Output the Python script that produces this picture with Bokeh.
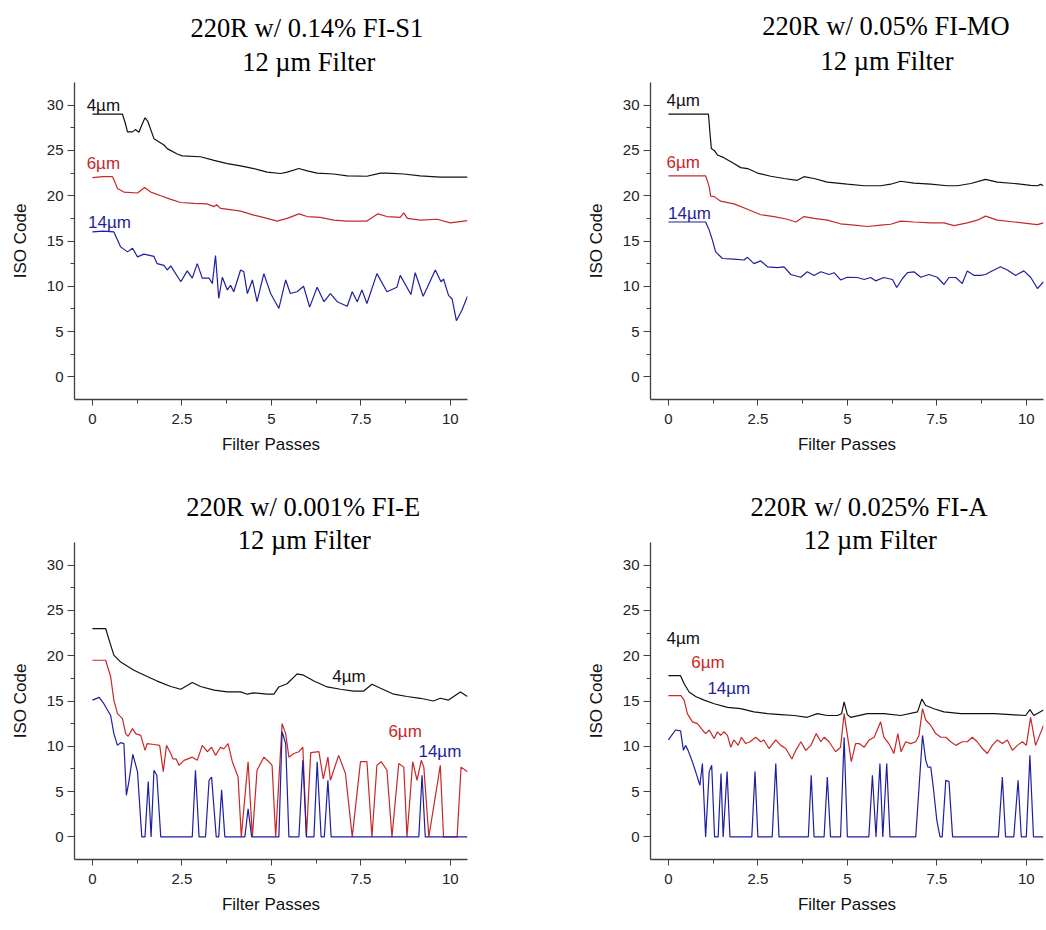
from bokeh.plotting import figure
from bokeh.layouts import column, row
from bokeh.models import Range1d, FixedTicker, Label, Title
from bokeh.embed import file_html
from bokeh.resources import INLINE

# ---------------- data ----------------
x_ticks = [0, 2.5, 5, 7.5, 10]
x_tick_labels = ["0", "2.5", "5", "7.5", "10"]
x_minor = [1.25, 3.75, 6.25, 8.75]
y_ticks = [0, 5, 10, 15, 20, 25, 30]
y_tick_labels = ["0", "5", "10", "15", "20", "25", "30"]
y_minor = [2.5, 7.5, 12.5, 17.5, 22.5, 27.5]

series_names = ["4\u00b5m", "6\u00b5m", "14\u00b5m"]

# Panel 1: 220R w/ 0.14% FI-S1
s1_4_x = [0, 0.84, 0.92, 0.98, 1.12, 1.2, 1.3, 1.38, 1.47, 1.55, 1.72, 2.0, 2.09, 2.37, 2.51, 3.02, 3.4, 3.77,
          4.14, 4.51, 4.88, 5.26, 5.44, 5.77, 6.0, 6.28, 6.74, 7.12, 7.67, 8.05, 8.23, 8.7, 9.16, 9.72, 10.48]
s1_4_y = [29.0, 29.0, 28.0, 27.05, 27.05, 27.3, 27.0, 27.8, 28.6, 28.2, 26.3, 25.6, 25.2, 24.6, 24.4, 24.3, 23.9,
          23.55, 23.3, 23.0, 22.6, 22.45, 22.6, 23.0, 22.75, 22.5, 22.4, 22.2, 22.15, 22.5, 22.5, 22.4, 22.2, 22.05, 22.05]
s1_6_x = [0, 0.3, 0.56, 0.63, 0.7, 0.88, 1.26, 1.46, 1.63, 1.91, 2.19, 2.47, 2.84, 3.2, 3.4, 3.47, 3.58, 3.95,
          4.14, 4.51, 4.88, 5.16, 5.44, 5.77, 6.0, 6.37, 6.74, 7.12, 7.67, 7.98, 8.23, 8.6, 8.7, 8.8, 9.16, 9.63, 10.0, 10.48]
s1_6_y = [22.0, 22.1, 22.1, 21.5, 20.8, 20.4, 20.3, 20.9, 20.4, 20.0, 19.6, 19.25, 19.15, 19.1, 18.8, 19.0, 18.6,
          18.4, 18.3, 17.85, 17.5, 17.2, 17.5, 18.0, 17.7, 17.6, 17.3, 17.2, 17.2, 18.0, 17.7, 17.6, 18.1, 17.5, 17.3,
          17.4, 17.0, 17.25]
s1_14_x = [0, 0.3, 0.6, 0.79, 0.98, 1.12, 1.26, 1.44, 1.72, 1.81, 2.0, 2.09, 2.19, 2.47, 2.65, 2.79, 2.93, 3.07,
           3.26, 3.35, 3.44, 3.53, 3.63, 3.77, 3.86, 3.95, 4.14, 4.23, 4.33, 4.47, 4.6, 4.79, 4.98, 5.21, 5.4, 5.53,
           5.72, 5.9, 6.07, 6.28, 6.47, 6.65, 6.84, 7.12, 7.26, 7.4, 7.53, 7.67, 7.95, 8.23, 8.51, 8.6, 8.9, 9.02,
           9.24, 9.35, 9.58, 9.74, 9.81, 9.95, 10.05, 10.17, 10.33, 10.48]
s1_14_y = [16.0, 16.1, 16.0, 14.35, 13.8, 14.2, 13.25, 13.55, 13.3, 12.5, 12.3, 11.8, 12.25, 10.5, 11.7, 10.9, 12.5,
           10.9, 10.9, 10.3, 13.4, 8.65, 11.0, 9.6, 10.1, 9.4, 11.8, 11.6, 9.2, 10.7, 8.3, 11.4, 9.2, 7.55, 10.7, 9.2,
           9.4, 10.0, 7.7, 9.9, 8.3, 9.2, 8.3, 7.8, 9.4, 8.3, 9.6, 8.1, 11.4, 9.4, 9.9, 11.2, 9.1, 11.5, 8.9, 9.8,
           11.8, 10.5, 10.8, 9.0, 8.6, 6.2, 7.4, 8.9]

# Panel 2: 220R w/ 0.05% FI-MO
s2_4_x = [0, 1.12, 1.16, 1.2, 1.28, 1.37, 1.55, 1.83, 2.02, 2.21, 2.49, 2.86, 3.23, 3.6, 3.79, 4.07, 4.44, 5.0,
          5.47, 5.93, 6.21, 6.49, 6.86, 7.33, 7.79, 8.07, 8.45, 8.86, 9.19, 9.66, 10.12, 10.31, 10.4, 10.48]
s2_4_y = [29.0, 29.0, 27.0, 25.2, 25.0, 24.5, 24.2, 23.55, 23.1, 23.0, 22.5, 22.15, 21.9, 21.7, 22.1, 21.9, 21.5,
          21.27, 21.1, 21.1, 21.27, 21.6, 21.4, 21.27, 21.1, 21.1, 21.35, 21.8, 21.5, 21.35, 21.15, 21.1, 21.25, 21.1]
s2_6_x = [0, 1.04, 1.14, 1.18, 1.28, 1.46, 1.83, 2.21, 2.58, 2.95, 3.32, 3.56, 3.79, 4.07, 4.44, 4.81, 5.19, 5.56,
          5.93, 6.21, 6.49, 6.86, 7.33, 7.7, 7.98, 8.35, 8.63, 8.86, 9.19, 9.66, 10.12, 10.31, 10.48]
s2_6_y = [22.2, 22.2, 21.0, 19.95, 19.9, 19.4, 19.1, 18.5, 17.9, 17.7, 17.4, 17.1, 17.7, 17.5, 17.3, 16.9, 16.75,
          16.6, 16.75, 16.85, 17.2, 17.1, 17.0, 17.0, 16.7, 17.0, 17.3, 17.75, 17.3, 17.1, 16.9, 16.8, 17.0]
s2_14_x = [0, 1.04, 1.14, 1.23, 1.32, 1.51, 1.83, 2.11, 2.21, 2.39, 2.58, 2.77, 3.04, 3.23, 3.42, 3.7, 3.88, 4.07,
           4.26, 4.49, 4.63, 4.81, 5.0, 5.28, 5.47, 5.65, 5.79, 6.02, 6.26, 6.38, 6.54, 6.68, 6.86, 7.05, 7.28, 7.51,
           7.7, 7.84, 8.03, 8.21, 8.35, 8.54, 8.72, 8.86, 9.0, 9.28, 9.47, 9.7, 9.93, 10.12, 10.31, 10.48]
s2_14_y = [17.1, 17.1, 16.2, 15.1, 13.8, 13.07, 13.0, 12.9, 13.2, 12.5, 12.8, 12.15, 12.07, 12.15, 11.3, 11.0, 11.6,
           11.2, 11.6, 11.3, 11.5, 10.7, 11.0, 10.97, 10.75, 10.97, 10.6, 10.97, 10.75, 9.86, 10.86, 11.5, 11.6, 11.0,
           11.3, 11.0, 10.2, 10.97, 10.97, 10.3, 11.7, 11.2, 11.2, 11.3, 11.6, 12.15, 11.8, 11.2, 11.7, 11.0, 9.75, 10.5]

# Panel 3: 220R w/ 0.001% FI-E
s3_4_x = [0, 0.37, 0.47, 0.6, 0.79, 1.16, 1.53, 1.81, 2.19, 2.47, 2.79, 3.02, 3.4, 3.77, 4.14, 4.33, 4.5, 4.88,
          5.07, 5.21, 5.44, 5.72, 5.9, 6.19, 6.56, 6.93, 7.3, 7.58, 7.81, 8.05, 8.42, 8.79, 9.16, 9.53, 9.72, 9.95,
          10.28, 10.48]
s3_4_y = [23.0, 23.0, 21.7, 20.06, 19.3, 18.4, 17.7, 17.2, 16.6, 16.3, 17.05, 16.6, 16.2, 16.0, 16.0, 15.75, 15.9,
          15.75, 15.75, 16.55, 16.9, 18.0, 17.85, 17.2, 16.55, 16.3, 16.1, 16.1, 16.85, 16.4, 15.75, 15.5, 15.3, 15.0,
          15.3, 15.1, 16.0, 15.5]
s3_6_x = [0, 0.37, 0.51, 0.6, 0.7, 0.84, 0.93, 1.0, 1.12, 1.21, 1.35, 1.47, 1.53, 1.72, 1.88, 1.98, 2.07, 2.19,
          2.25, 2.34, 2.42, 2.56, 2.79, 2.93, 3.07, 3.21, 3.33, 3.44, 3.58, 3.67, 3.79, 3.91, 4.0, 4.07, 4.16, 4.35,
          4.47, 4.6, 4.79, 4.93, 5.02, 5.12, 5.3, 5.4, 5.49, 5.63, 5.77, 5.88, 5.98, 6.1, 6.33, 6.45, 6.58, 6.65,
          6.88, 7.07, 7.26, 7.49, 7.67, 7.81, 7.95, 8.07, 8.23, 8.37, 8.56, 8.7, 8.79, 8.95, 9.07, 9.19, 9.26, 9.4,
          9.72, 9.81, 10.19, 10.3, 10.48]
s3_6_y = [19.5, 19.5, 17.7, 15.1, 13.6, 13.05, 11.4, 11.1, 11.95, 11.4, 11.2, 9.55, 10.3, 10.2, 10.1, 7.2, 10.1,
          9.2, 8.6, 8.6, 7.9, 8.45, 8.8, 8.45, 10.1, 9.4, 9.9, 9.0, 9.9, 9.7, 10.3, 8.3, 7.35, 6.6, 0, 8.3, 0, 7.35,
          8.8, 8.3, 7.9, 0, 12.5, 11.4, 8.8, 9.2, 9.4, 9.9, 0, 9.3, 9.4, 6.4, 8.8, 6.25, 9.0, 7.0, 0, 8.3, 8.3, 0,
          7.9, 8.3, 7.35, 0, 8.1, 7.7, 0, 8.3, 6.25, 8.45, 7.7, 0, 7.9, 0, 0, 7.7, 7.2]
s3_14_x = [0, 0.19, 0.32, 0.51, 0.6, 0.7, 0.79, 0.88, 0.95, 1.02, 1.13, 1.26, 1.38, 1.47, 1.56, 1.64, 1.72, 1.8,
           1.91, 2.79, 2.88, 2.98, 3.16, 3.26, 3.33, 3.46, 3.53, 3.61, 3.7, 4.26, 4.35, 4.45, 5.21, 5.3, 5.4, 5.49,
           5.77, 5.88, 5.98, 6.19, 6.28, 6.39, 6.48, 6.58, 6.67, 9.12, 9.21, 9.3, 10.48]
s3_14_y = [15.1, 15.4, 14.7, 13.4, 11.4, 10.1, 10.4, 10.3, 4.6, 6.1, 9.1, 7.2, 0, 0, 6.1, 0, 7.35, 6.8, 0, 0, 7.35,
           0, 0, 6.25, 6.6, 0, 0, 5.2, 0, 0, 3.1, 0, 0, 11.6, 10.3, 0, 0, 8.45, 0, 0, 8.3, 0, 0, 6.25, 0, 0, 6.8, 0, 0]

# Panel 4: 220R w/ 0.025% FI-A
s4_4_x = [0, 0.34, 0.44, 0.58, 0.76, 1.0, 1.28, 1.65, 2.02, 2.39, 2.77, 3.14, 3.51, 3.88, 4.16, 4.44, 4.72, 4.84,
          4.91, 5.0, 5.09, 5.56, 6.02, 6.49, 6.96, 7.08, 7.19, 7.42, 7.7, 8.17, 8.63, 9.1, 9.56, 9.98, 10.1, 10.21, 10.48]
s4_4_y = [17.8, 17.8, 16.9, 16.0, 15.5, 15.1, 14.7, 14.3, 14.15, 13.8, 13.6, 13.5, 13.4, 13.2, 13.6, 13.4, 13.4,
          13.6, 14.9, 13.5, 13.2, 13.6, 13.6, 13.4, 13.8, 15.2, 14.5, 14.15, 13.8, 13.6, 13.6, 13.6, 13.5, 13.4, 14.05,
          13.4, 14.0]
s4_6_x = [0, 0.35, 0.44, 0.53, 0.67, 0.81, 0.95, 1.04, 1.14, 1.28, 1.37, 1.46, 1.55, 1.65, 1.74, 1.83, 1.95, 2.04,
          2.16, 2.28, 2.44, 2.58, 2.67, 2.81, 3.0, 3.14, 3.28, 3.45, 3.56, 3.7, 3.84, 3.98, 4.13, 4.26, 4.35, 4.49,
          4.67, 4.81, 4.91, 5.02, 5.11, 5.23, 5.33, 5.47, 5.61, 5.75, 5.93, 6.02, 6.16, 6.3, 6.41, 6.5, 6.63, 6.77,
          6.91, 7.0, 7.1, 7.19, 7.33, 7.47, 7.61, 7.75, 7.89, 8.03, 8.21, 8.35, 8.49, 8.63, 8.77, 8.91, 9.05, 9.19,
          9.33, 9.47, 9.61, 9.75, 9.89, 10.0, 10.12, 10.26, 10.48]
s4_6_y = [15.6, 15.6, 15.1, 13.6, 12.7, 12.5, 11.8, 11.4, 11.8, 10.85, 11.6, 11.2, 11.6, 11.2, 9.9, 10.7, 10.1,
          11.0, 10.3, 10.5, 11.0, 10.5, 10.7, 9.75, 10.7, 10.1, 9.75, 8.6, 9.55, 10.5, 9.55, 10.1, 11.4, 10.5, 11.0,
          10.5, 9.4, 9.9, 13.6, 10.7, 8.3, 10.3, 10.3, 9.9, 10.7, 11.0, 12.7, 11.0, 10.3, 9.2, 11.4, 9.4, 10.5, 10.3,
          10.5, 11.2, 14.15, 12.9, 12.3, 11.4, 11.0, 11.0, 10.5, 10.1, 10.5, 10.5, 11.0, 10.5, 9.75, 9.2, 10.1, 10.7,
          10.3, 10.7, 9.55, 10.1, 10.5, 10.1, 13.2, 10.1, 12.3]
s4_14_x = [0, 0.2, 0.34, 0.42, 0.48, 0.55, 0.67, 0.81, 0.88, 0.95, 1.04, 1.14, 1.21, 1.29, 1.39, 1.47, 1.53, 1.64,
           1.72, 2.33, 2.42, 2.5, 2.9, 3.0, 3.09, 3.91, 3.99, 4.07, 4.35, 4.44, 4.53, 4.81, 4.91, 5.0, 5.6, 5.7, 5.8,
           5.91, 5.99, 6.1, 6.19, 6.91, 7.1, 7.19, 7.25, 7.33, 7.4, 7.5, 7.59, 7.65, 7.75, 7.84, 7.94, 9.22, 9.33,
           9.42, 9.65, 9.77, 9.86, 10.0, 10.1, 10.2, 10.48]
s4_14_y = [10.7, 11.8, 11.7, 9.55, 10.1, 9.55, 8.3, 6.6, 5.7, 8.1, 0, 7.2, 7.9, 0, 0, 7.0, 0, 7.2, 0, 0, 7.2, 0, 0,
           8.1, 0, 0, 6.8, 0, 0, 6.6, 0, 0, 11.0, 0, 0, 6.8, 0, 8.1, 0, 8.1, 0, 0, 11.2, 8.45, 7.7, 7.7, 5.5, 1.8, 0,
           0, 6.25, 6.1, 0, 0, 6.6, 0, 0, 6.25, 0, 0, 9.0, 0, 0]

titles_line1 = ["220R w/ 0.14% FI-S1", "220R w/ 0.05% FI-MO", "220R w/ 0.001% FI-E", "220R w/ 0.025% FI-A"]
title_line2 = "12 \u00b5m Filter"

# ---------------- styling ----------------
COLORS = ["#111111", "#c62828", "#1f1f9e"]
SANS = "Liberation Sans"
SERIF = "Liberation Serif"


def make_panel(series, t1, t1_place, t2_place, label_pos, width, borders):
    left, right, top, bottom = borders
    p = figure(width=width, height=465, output_backend="svg", toolbar_location=None,
               x_range=Range1d(-0.5, 10.48), y_range=Range1d(-2.5, 32.5),
               min_border_left=left, min_border_right=right,
               min_border_top=top, min_border_bottom=bottom,
               title_location=None)
    p.outline_line_color = None
    p.xgrid.visible = False
    p.ygrid.visible = False
    p.background_fill_color = "white"
    p.border_fill_color = "white"

    for (xs, ys), c in zip(series, COLORS):
        p.line(xs, ys, line_color=c, line_width=1.2)

    for ax, ticks, labels, minor in ((p.xaxis[0], x_ticks, x_tick_labels, x_minor),
                                     (p.yaxis[0], y_ticks, y_tick_labels, y_minor)):
        ax.ticker = FixedTicker(ticks=ticks, minor_ticks=minor)
        ax.major_label_overrides = dict(zip(ticks, labels))
        ax.axis_line_color = "#404040"
        ax.axis_line_width = 1.3
        ax.major_tick_line_color = "#404040"
        ax.minor_tick_line_color = "#404040"
        ax.major_tick_in = 0
        ax.minor_tick_in = 0
        ax.minor_tick_out = 4
        ax.major_label_text_font = SANS
        ax.major_label_text_font_size = "15px"
        ax.major_label_text_color = "#222222"
        ax.axis_label_text_font = SANS
        ax.axis_label_text_font_size = "17px"
        ax.axis_label_text_font_style = "normal"
        ax.axis_label_text_color = "#111111"
    p.xaxis.major_tick_out = 6
    p.yaxis.major_tick_out = 7
    p.xaxis.major_label_standoff = 8
    p.yaxis.major_label_standoff = 4
    p.xaxis.axis_label = "Filter Passes"
    p.yaxis.axis_label = "ISO Code"
    p.xaxis.axis_label_standoff = 8
    p.yaxis.axis_label_standoff = 14

    # titles: the first one added sits closest to the plot frame
    for txt, (off, so) in ((title_line2, t2_place), (t1, t1_place)):
        p.add_layout(Title(text=txt, align="left", offset=off, standoff=so,
                           text_font=SERIF, text_font_size="26.5px", text_font_style="normal",
                           text_color="#000000", vertical_align="bottom"), "above")
    for name, (x, y), c in zip(series_names, label_pos, COLORS):
        p.add_layout(Label(x=x, y=y, text=name, text_font=SANS, text_font_size="17px",
                           text_color=c, text_align="left", text_baseline="alphabetic"))
    return p


p1 = make_panel([(s1_4_x, s1_4_y), (s1_6_x, s1_6_y), (s1_14_x, s1_14_y)], titles_line1[0],
                (116, -7.8), (167.7, 10.6), [(-0.16, 30.0), (-0.16, 23.55), (-0.12, 17.0)],
                580, (74, 113, 82, 66))
p2 = make_panel([(s2_4_x, s2_4_y), (s2_6_x, s2_6_y), (s2_14_x, s2_14_y)], titles_line1[1],
                (111.7, -6.6), (170, 12.6), [(-0.05, 30.5), (-0.05, 23.66), (-0.01, 18.0)],
                466, (70, 3, 82, 66))
p3 = make_panel([(s3_4_x, s3_4_y), (s3_6_x, s3_6_y), (s3_14_x, s3_14_y)], titles_line1[2],
                (111.7, 27.2), (163.3, -24.6), [(6.70, 17.66), (8.27, 11.6), (9.11, 9.4)],
                580, (74, 113, 77, 71))
p4 = make_panel([(s4_4_x, s4_4_y), (s4_6_x, s4_6_y), (s4_14_x, s4_14_y)], titles_line1[3],
                (100, 27.2), (153.3, -24.6), [(-0.05, 21.9), (0.64, 19.2), (1.09, 16.4)],
                466, (70, 3, 77, 71))

layout = column(row(p1, p2), row(p3, p4))

open("out.html", "w").write(file_html(layout, INLINE))
